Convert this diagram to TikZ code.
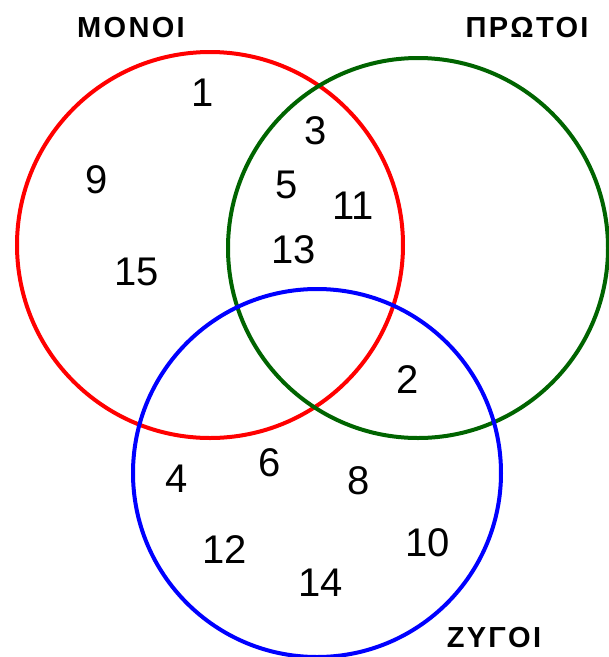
\documentclass[tikz,border=0pt]{standalone}
\usepackage{fontspec}
\setmainfont{Liberation Sans}
\newfontfamily\labelfont[LetterSpace=8]{Liberation Sans}
\begin{document}
\begin{tikzpicture}[x=1pt,y=-1pt,
  ring/.style={line width=4pt},
  num/.style={inner sep=0pt, font=\fontsize{40}{40}\selectfont},
  setlabel/.style={inner sep=0pt, font=\labelfont\fontsize{29}{29}\selectfont\bfseries}]
\definecolor{vred}{RGB}{255,0,0}
\definecolor{vgreen}{RGB}{0,100,0}
\definecolor{vblue}{RGB}{0,0,255}
\useasboundingbox (0,0) rectangle (609,657);
\draw[ring, vred] (210,245) circle[radius=193];
\draw[ring, vgreen] (418,248) circle[radius=190];
\draw[ring, vblue] (317,473) circle[radius=184];
\node[setlabel] (monoi) at (131,28) {ΜΟΝΟΙ};
\node[setlabel] (protoi) at (527,28) {ΠΡΩΤΟΙ};
\node[setlabel] (zygoi) at (494,638) {ΖΥΓΟΙ};
\node[num] (n1) at (203,93) {1};
\node[num] (n9) at (97,180) {9};
\node[num] (n15) at (137,272) {15};
\node[num] (n3) at (316,131) {3};
\node[num] (n5) at (287,185) {5};
\node[num] (n11) at (353,206) {11};
\node[num] (n13) at (294,250) {13};
\node[num] (n2) at (408,380) {2};
\node[num] (n4) at (177,479) {4};
\node[num] (n6) at (270,463) {6};
\node[num] (n8) at (359,481) {8};
\node[num] (n12) at (225,550) {12};
\node[num] (n10) at (428,543) {10};
\node[num] (n14) at (321,583) {14};
\end{tikzpicture}
\end{document}
